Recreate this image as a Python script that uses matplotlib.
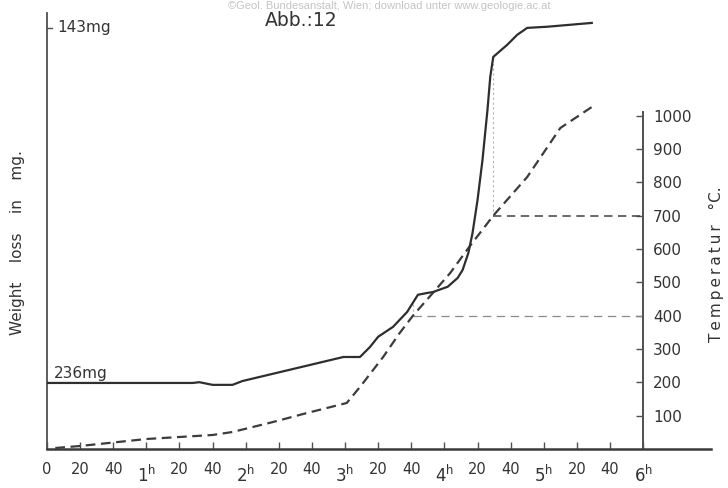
import numpy as np
import matplotlib
matplotlib.use("Agg")
import matplotlib.pyplot as plt
from matplotlib.transforms import blended_transform_factory

plt.rcParams['font.family'] = ['DejaVu Sans']
plt.rcParams['mathtext.default'] = 'regular'
plt.rcParams['lines.scale_dashes'] = False

# ---- data (time in minutes) ----
weight_t = [0, 88, 92, 100, 112, 118, 179, 189, 195, 200, 209, 217.5, 224, 230,
            233, 242, 248, 251, 254.5, 257, 260, 263, 266, 267.7, 269.5, 278,
            284, 290, 302, 329]
weight_mg = [236.0, 236.0, 235.8, 236.5, 236.5, 235.5, 229.2, 229.2, 226.6,
             223.9, 221.3, 217.4, 212.9, 212.4, 212.2, 210.8, 208.5, 206.4,
             201.9, 196.7, 188.1, 177.6, 164.5, 155.8, 150.6, 147.4, 144.8,
             143.0, 142.7, 141.7]

temp_t = [5, 20, 60, 100, 112, 136.5, 157, 181, 189, 203, 213, 221, 233,
          243.5, 254.5, 269.5, 290, 310, 329]
temp_c = [3, 9, 30, 42, 51, 81, 108, 138, 186, 276, 348, 400, 468, 528, 603,
          700, 816, 963, 1026]

temp_ticks = [100, 200, 300, 400, 500, 600, 700, 800, 900, 1000]
minute_ticks = list(range(20, 361, 20))
hour_ticks = [60, 120, 180, 240, 300, 360]
hour_labels = ["1", "2", "3", "4", "5", "6"]

ref_temps = [400, 700]
ref_times = [221, 269.5]

weight_top, weight_bottom = 143, 236

INK = '#333333'
AX = '#505050'

fig = plt.figure(figsize=(7.28, 4.88), dpi=100)
ax = fig.add_axes([47/728, 39/488, 664/728, 436/488])
ax.set_xlim(0, 401)
ax.set_ylim(0, 1308)
ax.set_facecolor('none')

ax2 = ax.twinx()
ax2.set_ylim(253.3, 139.1)
for s in ax2.spines.values():
    s.set_visible(False)
ax2.set_yticks([])

# spines
ax.spines['top'].set_visible(False)
ax.spines['left'].set_color(AX)
ax.spines['left'].set_linewidth(1.3)
ax.spines['bottom'].set_color('#3a3a3a')
ax.spines['bottom'].set_linewidth(1.8)
ax.spines['right'].set_position(('data', 360))
ax.spines['right'].set_bounds(0, 1010)
ax.spines['right'].set_color(AX)
ax.spines['right'].set_linewidth(1.4)

ax.yaxis.tick_right()
ax.set_yticks(temp_ticks)
ax.set_yticklabels([str(v) for v in temp_ticks])
ax.tick_params(axis='y', direction='in', length=5, width=1, colors=AX,
               labelcolor=INK, labelsize=11, pad=7)

ax.set_xticks([0] + minute_ticks)
xl = []
for m in [0] + minute_ticks:
    xl.append(str(m % 60) if m % 60 else ("0" if m == 0 else ""))
ax.set_xticklabels(xl)
ax.tick_params(axis='x', direction='in', length=5, width=1, colors=AX,
               labelcolor=INK, labelsize=10.5, pad=9)

trans = blended_transform_factory(ax.transData, ax.transAxes)
for m, lab in zip(hour_ticks, hour_labels):
    ax.text(m, -0.075, r"$%s^{h}$" % lab, transform=trans, ha='center',
            va='baseline', fontsize=12, color=INK)

# curves
ax.plot(temp_t, temp_c, color='#3c3c3c', lw=1.6, dashes=(7, 4), zorder=3)
ax2.plot(weight_t, weight_mg, color='#2e2e2e', lw=1.6, zorder=4,
         solid_joinstyle='round')

# reference lines
ax.plot([ref_times[0], 360], [ref_temps[0]] * 2, color='#8a8a8a', lw=0.9,
        dashes=(6, 4), zorder=2)
ax.plot([ref_times[1], 360], [ref_temps[1]] * 2, color='#404040', lw=1.1,
        dashes=(6, 4), zorder=2)
fig.canvas.draw()
for t, T in zip(ref_times, ref_temps):
    w = np.interp(t, weight_t, weight_mg)
    yd = ax2.transData.transform((t, w))[1]
    Tw = ax.transData.inverted().transform((0, yd))[1]
    ax.plot([t, t], [T, Tw], color='#b0b0b0', lw=0.8, ls=(0, (1.5, 2)), zorder=1)

# weight markers
yd = ax2.transData.transform((0, weight_top))[1]
Ttop = ax.transData.inverted().transform((0, yd))[1]
ax.plot([0, 3], [Ttop, Ttop], color=AX, lw=1.0, clip_on=False)
ax2.text(6, weight_top, "143mg", ha='left', va='center', fontsize=11, color=INK)
ax2.text(4, weight_bottom - 0.6, "236mg", ha='left', va='bottom', fontsize=11,
         color=INK)

# axis labels
fig.text(18/728, 1 - 243/488, "Weight    loss    in    mg.", rotation=90,
         ha='center', va='center', fontsize=11, color=INK)
fig.text(716/728, 1 - 264/488,
         "T\u2009e\u2009m\u2009p\u2009e\u2009r\u2009a\u2009t\u2009u\u2009r   \u00b0C.",
         rotation=90, ha='center', va='center', fontsize=11, color=INK)

# title and watermark
fig.text(301/728, 1 - 20/488, "Abb.:12", ha='center', va='center',
         fontsize=13.5, color=INK)
fig.text(389/728, 1 - 1/488,
         "\u00a9Geol. Bundesanstalt, Wien; download unter www.geologie.ac.at",
         ha='center', va='top', fontsize=8, color='#c4c4c4',
         family=['Liberation Sans', 'DejaVu Sans'])

fig.savefig("out.png", dpi=100, facecolor='white')
